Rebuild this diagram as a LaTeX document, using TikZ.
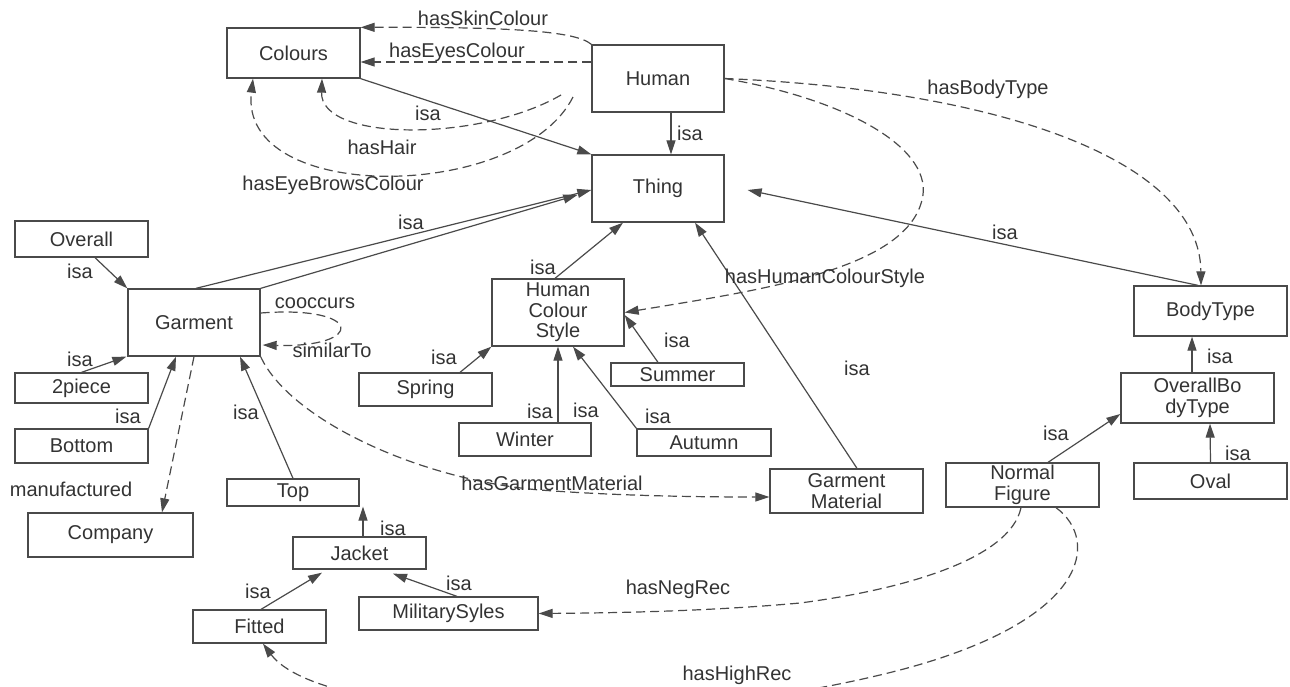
\documentclass[tikz,border=0pt]{standalone}
\usepackage{fontspec}
\setmainfont{Liberation Sans}
\usetikzlibrary{arrows.meta}
\definecolor{ln}{HTML}{4A4A4A}
\definecolor{tx}{HTML}{333333}
\begin{document}
\begin{tikzpicture}[x=1pt,y=-1pt,
  box/.style={draw=ln, line width=1.3pt, inner sep=0pt, text=tx, align=center, font=\fontsize{20}{20.5}\selectfont},
  isa/.style={draw=ln, line width=1.2pt, -{Triangle[length=14pt,width=9pt]}},
  rel/.style={draw=ln, line width=1.2pt, dash pattern=on 9pt off 5pt, -{Triangle[length=14pt,width=9pt]}},
  lbl/.style={text=tx, inner sep=0pt, font=\fontsize{20}{20.5}\selectfont},
]
\useasboundingbox (0,0) rectangle (1290,686);
\clip (0,0) rectangle (1290,686);

% nodes
\node[box,minimum width=133pt,minimum height=50pt] (colours) at (293.5,53) {Colours};
\node[box,minimum width=132pt,minimum height=67pt] (human) at (658,78.5) {Human};
\node[box,minimum width=132pt,minimum height=67pt] (thing) at (658,188.5) {Thing};
\node[box,minimum width=133pt,minimum height=36pt] (overall) at (81.5,239) {Overall};
\node[box,minimum width=132pt,minimum height=67pt] (garment) at (194,322.5) {Garment};
\node[box,minimum width=132pt,minimum height=67pt] (hcs) at (558,312.5) {Human\\Colour\\Style};
\node[box,minimum width=153pt,minimum height=50pt] (bodytype) at (1210.5,311) {BodyType};
\node[box,minimum width=133pt,minimum height=30pt] (twopiece) at (81.5,388) {2piece};
\node[box,minimum width=133pt,minimum height=33pt] (spring) at (425.5,389.5) {Spring};
\node[box,minimum width=133pt,minimum height=23pt] (summer) at (677.5,374.5) {Summer};
\node[box,minimum width=153pt,minimum height=50pt] (obt) at (1197.5,398) {OverallBo\\dyType};
\node[box,minimum width=133pt,minimum height=34pt] (bottom) at (81.5,446) {Bottom};
\node[box,minimum width=132pt,minimum height=33pt] (winter) at (525,439.5) {Winter};
\node[box,minimum width=134pt,minimum height=27pt] (autumn) at (704,442.5) {Autumn};
\node[box,minimum width=153pt,minimum height=44pt] (gm) at (846.5,491) {Garment\\Material};
\node[box,minimum width=153pt,minimum height=44pt] (nf) at (1022.5,485) {Normal\\Figure};
\node[box,minimum width=153pt,minimum height=36pt] (oval) at (1210.5,481) {Oval};
\node[box,minimum width=132pt,minimum height=27pt] (top) at (293,492.5) {Top};
\node[box,minimum width=165pt,minimum height=44pt] (company) at (110.5,535) {Company};
\node[box,minimum width=133pt,minimum height=32pt] (jacket) at (359.5,553) {Jacket};
\node[box,minimum width=179pt,minimum height=33pt] (ms) at (448.5,613.5) {MilitarySyles};
\node[box,minimum width=133pt,minimum height=33pt] (fitted) at (259.5,626.5) {Fitted};

% isa connectors
\draw[isa] (colours.south east) -- (thing.north west);
\draw[isa] ([xshift=13pt]human.south) -- ([xshift=13pt]thing.north);
\draw[isa] ([xshift=2pt]garment.north) -- ([yshift=-1.5pt]thing.west);
\draw[isa] (garment.north east) -- ([xshift=-14pt,yshift=-6.5pt]thing.west);
\draw[isa] ([xshift=13.5pt]overall.south) -- (garment.north west);
\draw[isa] (twopiece.north) -- ([xshift=-1pt]garment.south west);
\draw[isa] (bottom.north east) -- ([xshift=-18pt]garment.south);
\draw[isa] (top.north) -- ([xshift=46pt]garment.south);
\draw[isa] ([xshift=-3pt]hcs.north) -- ([xshift=-35pt]thing.south);
\draw[isa] ([xshift=10.5pt]gm.north) -- ([xshift=37pt]thing.south);
\draw[isa] ([xshift=-12.5pt]bodytype.north) -- ([xshift=23pt,yshift=-1.5pt]thing.east);
\draw[isa] ([xshift=34.5pt]spring.north) -- (hcs.south west);
\draw[isa] ([xshift=33pt]winter.north) -- (hcs.south);
\draw[isa] (autumn.north west) -- ([xshift=15pt]hcs.south);
\draw[isa] ([xshift=-19.5pt]summer.north) -- ([yshift=-2.5pt]hcs.east);
\draw[isa] ([xshift=-5.5pt]obt.north) -- ([xshift=-18.5pt]bodytype.south);
\draw[isa] (oval.north) -- ([xshift=12.5pt]obt.south);
\draw[isa] ([xshift=25.5pt]nf.north) -- ([yshift=-16pt]obt.west);
\draw[isa] ([xshift=3.5pt]jacket.north) -- ([xshift=70pt]top.south);
\draw[isa] ([xshift=1.5pt]fitted.north) -- ([xshift=-37.5pt,yshift=-3pt]jacket.south);
\draw[isa] ([xshift=8.5pt]ms.north) -- ([xshift=33.5pt,yshift=-4pt]jacket.south);

% relation connectors
\coordinate (hairS) at (561,95);
\coordinate (browS) at (573,97);
\draw[rel] (human.north west) .. controls (575,30) and (500,27) .. (colours.north east);
\draw[rel] ([yshift=16.5pt]human.west) -- ([yshift=-9pt]colours.east);
\draw[rel] (hairS) .. controls (480,142) and (320,142) .. ([xshift=28.5pt]colours.south);
\draw[rel] (browS) .. controls (520,202) and (238,205) .. ([xshift=-40.5pt]colours.south);
\draw[rel] (human.east) .. controls (1000,90) and (1200,160) .. ([xshift=-9.5pt]bodytype.north);
\draw[rel] (human.east) .. controls (850,100) and (935,150) .. (922,200) .. controls (905,270) and (760,290) .. (hcs.east);
\draw[rel] ([yshift=9.5pt]garment.east) .. controls (365,305) and (365,348) .. ([xshift=2pt,yshift=-22.5pt]garment.east);
\draw[rel] (garment.south) -- ([xshift=51.5pt]company.north);
\draw[rel] (garment.south east) .. controls (290,420) and (420,480) .. (540,490) .. controls (620,496) and (700,497) .. ([yshift=-6pt]gm.west);
\draw[rel] ([xshift=-1.5pt]nf.south) .. controls (1010,560) and (900,590) .. (800,603) .. controls (700,612) and (600,613) .. (ms.east);
\draw[rel] ([xshift=33.5pt]nf.south) .. controls (1100,540) and (1090,620) .. (900,670) .. controls (650,735) and (320,720) .. ([xshift=3.5pt]fitted.south);

% labels
\node[lbl] (L1) at (483,18) {hasSkinColour};
\node[lbl] (L2) at (457,52) {hasEyesColour};
\node[lbl] (L3) at (428,113) {isa};
\node[lbl] (L4) at (382,147) {hasHair};
\node[lbl] (L5) at (333,185) {hasEyeBrowsColour};
\node[lbl] (L6) at (690,133) {isa};
\node[lbl] (L7) at (988,89) {hasBodyType};
\node[lbl] (L8) at (411,222) {isa};
\node[lbl] (L9) at (1005,232) {isa};
\node[lbl] (L10) at (825,278) {hasHumanColourStyle};
\node[lbl] (L11) at (543,267) {isa};
\node[lbl] (L12) at (80,271) {isa};
\node[lbl] (L13) at (315,303) {cooccurs};
\node[lbl] (L14) at (332,350) {similarTo};
\node[lbl] (L15) at (80,359) {isa};
\node[lbl] (L16) at (444,357) {isa};
\node[lbl] (L17) at (677,340) {isa};
\node[lbl] (L18) at (1220,356) {isa};
\node[lbl] (L19) at (857,368) {isa};
\node[lbl] (L20) at (128,416) {isa};
\node[lbl] (L21) at (246,412) {isa};
\node[lbl] (L22) at (540,411) {isa};
\node[lbl] (L23) at (586,410) {isa};
\node[lbl] (L24) at (658,416) {isa};
\node[lbl] (L25) at (1056,433) {isa};
\node[lbl] (L26) at (1238,453) {isa};
\node[lbl] (L27) at (552,483) {hasGarmentMaterial};
\node[lbl] (L28) at (71,489) {manufactured};
\node[lbl] (L29) at (393,528) {isa};
\node[lbl] (L30) at (258,591) {isa};
\node[lbl] (L31) at (459,583) {isa};
\node[lbl] (L32) at (678,589) {hasNegRec};
\node[lbl] (L33) at (737,675) {hasHighRec};
\end{tikzpicture}
\end{document}
